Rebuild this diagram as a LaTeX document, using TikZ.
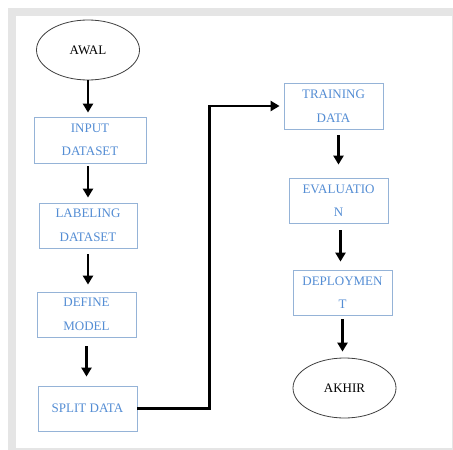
\documentclass[tikz,border=0pt]{standalone}
\usepackage{fontspec}
\setmainfont{Liberation Serif}
\usetikzlibrary{shapes.geometric, arrows.meta}

\definecolor{boxblue}{RGB}{149,179,215}
\definecolor{textblue}{RGB}{84,141,212}
\definecolor{rimgray}{RGB}{64,64,64}

\begin{document}
\begin{tikzpicture}[x=1pt, y=-1pt, >={Triangle[width=10pt, length=9pt]},
  line cap=butt, line join=miter,
  stepbox/.style={draw=boxblue, line width=0.8pt, text=textblue, align=center,
    minimum width=99pt, minimum height=45pt, inner sep=0pt,
    font=\fontsize{13}{23.5}\selectfont},
  endcap/.style={ellipse, draw=rimgray, line width=0.8pt, minimum width=103pt,
    minimum height=60pt, inner sep=0pt, font=\fontsize{13}{15}\selectfont},
  flow/.style={->, line width=2.6pt}]
  \useasboundingbox (0,0) rectangle (453,450);

  % Frame
  \fill[gray!20] (8,8) rectangle (453,450);
  \fill[white] (16,16) rectangle (452,448);

  % Left column
  \node[endcap] (awal) at (88,50) {AWAL};
  \node[stepbox, minimum width=112pt, minimum height=46pt] (input) at (90,140) {INPUT\\DATASET};
  \node[stepbox, minimum width=98pt] (label) at (88,225.5) {LABELING\\DATASET};
  \node[stepbox] (define) at (86.5,314.5) {DEFINE\\MODEL};
  \node[stepbox] (split) at (87.5,408.5) {SPLIT DATA};

  % Right column
  \node[stepbox, minimum height=46pt] (train) at (333.5,106) {TRAINING\\DATA};
  \node[stepbox] (eval) at (338.5,200.5) {EVALUATIO\\N};
  \node[stepbox] (deploy) at (342.5,292.5) {DEPLOYMEN\\T};
  \node[endcap] (akhir) at (344.5,388) {AKHIR};

  % Arrows down the left column
  \draw[flow, shorten >=4pt] (awal.south) -- (awal.south |- input.north);
  \draw[flow, shorten <=3pt, shorten >=5pt] (label.north |- input.south) -- (label.north);
  \draw[flow, shorten <=6pt, shorten >=7pt] (label.south) -- (label.south |- define.north);
  \draw[flow, shorten <=9pt, shorten >=9pt] (define.south) -- (define.south |- split.north);

  % Elbow over to the right column
  \draw[flow, shorten >=4pt] (split.east) -- ++(72,0) |- (train.west);

  % Arrows down the right column
  \draw[flow, shorten <=6pt, shorten >=13pt] (eval.north |- train.south) -- (eval.north);
  \draw[flow, shorten <=7pt, shorten >=8pt] ([xshift=2pt]eval.south) -- ([xshift=2pt]eval.south |- deploy.north);
  \draw[flow, shorten <=4pt, shorten >=6pt] (deploy.south) -- (deploy.south |- akhir.north);
\end{tikzpicture}
\end{document}
